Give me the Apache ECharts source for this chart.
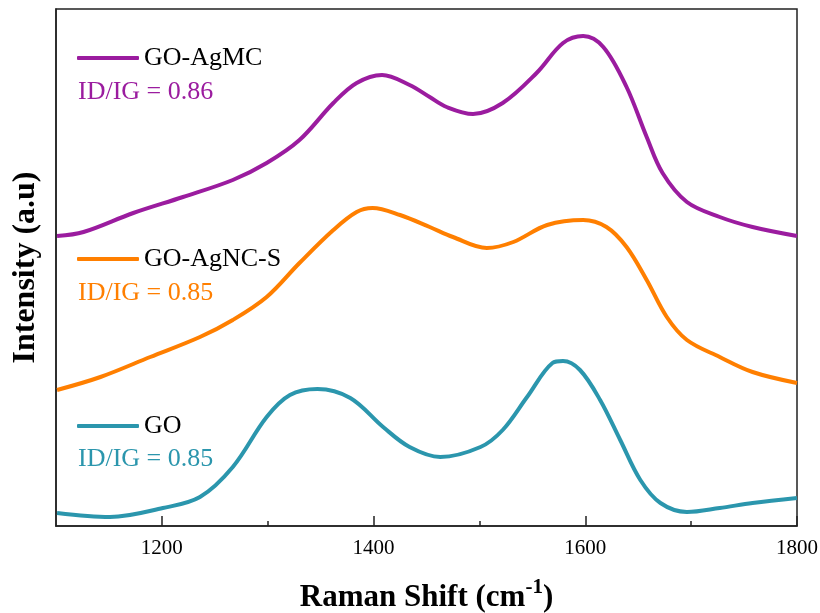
<!DOCTYPE html>
<html>
<head>
<meta charset="utf-8">
<script src="https://cdn.jsdelivr.net/npm/echarts@6/dist/echarts.min.js"></script>
<style>html,body{margin:0;padding:0;background:#fff;}#c{width:820px;height:613px;}</style>
</head>
<body>
<div id="c"></div>
<script>
// Raman shift (cm-1) and intensity (a.u., offset)
var goShift = [1101,1151,1201,1236,1267,1299,1321,1347,1378,1409,1434,1463,1501,1522,1545,1569,1579,1595,1614,1633,1652,1671,1696,1727,1758,1800];
var goIntensity = [13,9,18,29,59,109,131,137,128,99,79,69,79,96,129,163,165,156,126,86,46,23,14,18,23,28];

var agncShift = [1101,1142,1189,1236,1267,1299,1330,1362,1384,1399,1425,1453,1475,1507,1532,1564,1598,1620,1639,1658,1677,1696,1727,1758,1800];
var agncIntensity = [136,149,169,189,206,229,263,296,314,318,311,299,289,278,284,301,306,299,279,246,209,186,169,154,143];

var agmcShift = [1101,1126,1173,1220,1267,1299,1330,1362,1384,1408,1434,1453,1469,1494,1522,1554,1579,1598,1617,1639,1658,1673,1696,1727,1758,1800];
var agmcIntensity = [290,294,313,329,346,363,386,423,443,451,441,429,419,412,423,453,483,490,479,439,389,353,324,309,299,290];

var seriesNames = ['GO-AgMC', 'GO-AgNC-S', 'GO'];
var ratioLabels = ['ID/IG = 0.86', 'ID/IG = 0.85', 'ID/IG = 0.85'];
var majorTicks = [1200, 1400, 1600, 1800];
var minorTicks = [1300, 1500, 1700];

function zip(xs, ys) { return xs.map(function (x, i) { return [x, ys[i]]; }); }

var colors = ['#9b1c9f', '#ff7f00', '#2b96ad'];
var serif = '"Liberation Serif", "DejaVu Serif", serif';
var chart = echarts.init(document.getElementById('c'));

var legendTops = [45, 246, 413];
var ratioY = [92, 293, 459];

function legendFor(i) {
  return {
    data: [seriesNames[i]], left: 77, top: legendTops[i], padding: 0,
    icon: 'roundRect', itemWidth: 62, itemHeight: 4, itemGap: 6,
    selectedMode: false,
    textStyle: { fontFamily: serif, fontSize: 26, color: '#000', padding: [0, 0, 0, 0] }
  };
}

function line(i, xs, ys) {
  return {
    name: seriesNames[i], type: 'line', smooth: 0.35, showSymbol: false,
    data: zip(xs, ys), lineStyle: { width: 4, color: colors[i] }, itemStyle: { color: colors[i] }
  };
}

chart.setOption({
  animation: false,
  backgroundColor: '#fff',
  grid: { left: 56, right: 23, top: 9, bottom: 87, containLabel: false, outerBoundsMode: 'none', show: true, borderColor: '#222', borderWidth: 1.5, backgroundColor: 'transparent' },
  legend: [legendFor(0), legendFor(1), legendFor(2)],
  xAxis: [{
    type: 'value', min: 1100, max: 1800, interval: 100,
    position: 'bottom',
    axisLine: { show: true, onZero: false, lineStyle: { color: '#222', width: 1.5 } },
    axisTick: { show: true, inside: true, length: 10, customValues: majorTicks, lineStyle: { color: '#222', width: 1.5 } },
    axisLabel: { show: true, customValues: majorTicks, formatter: function (v) { return String(v); }, fontFamily: serif, fontSize: 21, color: '#000', margin: 12 },
    splitLine: { show: false },
    name: '{a|Raman Shift (cm}{s|-1}{a|)}',
    nameLocation: 'middle', nameGap: 51,
    nameTextStyle: {
      rich: {
        a: { fontFamily: serif, fontSize: 31, fontWeight: 'bold', color: '#000', lineHeight: 36, verticalAlign: 'bottom' },
        s: { fontFamily: serif, fontSize: 21, fontWeight: 'bold', color: '#000', lineHeight: 36, verticalAlign: 'top', padding: [0, 0, 13, 0] }
      }
    }
  }, {
    type: 'value', min: 1100, max: 1800, interval: 100,
    position: 'bottom', offset: 0,
    axisLine: { show: false },
    axisTick: { show: true, inside: true, length: 5, customValues: minorTicks, lineStyle: { color: '#222', width: 1.5 } },
    axisLabel: { show: false },
    splitLine: { show: false }
  }],
  yAxis: {
    type: 'value', min: 0, max: 517,
    axisLine: { show: true, lineStyle: { color: '#222', width: 1.5 } },
    axisTick: { show: false }, axisLabel: { show: false }, splitLine: { show: false },
    name: 'Intensity (a.u)', nameLocation: 'middle', nameGap: 14,
    nameTextStyle: { fontFamily: serif, fontSize: 32, fontWeight: 'bold', color: '#000' }
  },
  series: [
    line(0, agmcShift, agmcIntensity),
    line(1, agncShift, agncIntensity),
    line(2, goShift, goIntensity)
  ],
  graphic: ratioLabels.map(function (t, i) {
    return { type: 'text', left: 78, top: ratioY[i] - 13, style: { text: t, fill: colors[i], font: '26px ' + serif } };
  })
});
</script>
</body>
</html>
